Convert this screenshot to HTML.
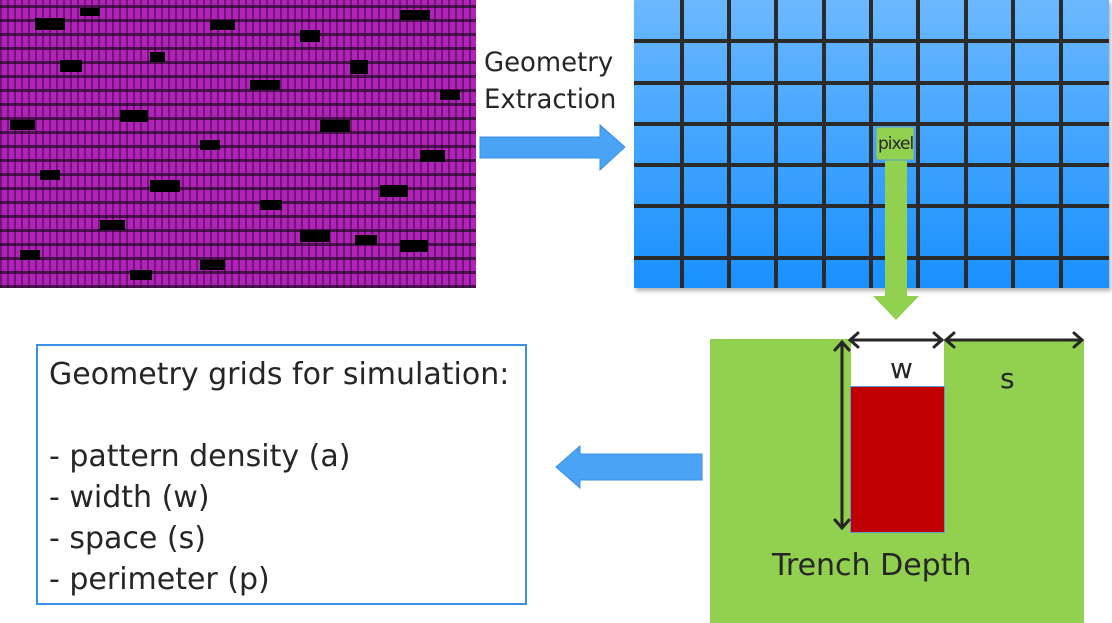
<!DOCTYPE html>
<html><head><meta charset="utf-8"><style>
body{margin:0;width:1112px;height:623px;background:#fff;position:relative;overflow:hidden;font-family:"DejaVu Sans","Liberation Sans",sans-serif;color:#262626}
.abs{position:absolute}
#layout{left:0;top:0;width:476px;height:288px;background:
repeating-linear-gradient(0deg,rgba(0,0,0,.55) 0 3px,transparent 3px 14px),
repeating-linear-gradient(90deg,rgba(0,0,0,.35) 0 2px,transparent 2px 7px),
#b022b8}
#grid{left:634px;top:0;width:475px;height:288px;background:linear-gradient(#6cb8ff,#1890ff);box-shadow:2px 3px 4px rgba(0,0,0,.3)}
.v{position:absolute;top:0;height:288px;width:4px;background:#2b2b2b}
.h{position:absolute;left:634px;width:475px;height:4px;background:#2b2b2b}
</style></head><body>
<div id="layout" class="abs">
<svg width="476" height="288" style="position:absolute;left:0;top:0">
<g fill="#000">
<rect x="35" y="18" width="30" height="12"/><rect x="80" y="8" width="20" height="8"/><rect x="210" y="20" width="25" height="10"/><rect x="300" y="30" width="20" height="12"/><rect x="400" y="10" width="30" height="10"/>
<rect x="60" y="60" width="22" height="12"/><rect x="150" y="52" width="15" height="10"/><rect x="250" y="80" width="30" height="10"/><rect x="350" y="60" width="18" height="14"/><rect x="440" y="90" width="20" height="10"/>
<rect x="10" y="120" width="25" height="10"/><rect x="120" y="110" width="28" height="12"/><rect x="200" y="140" width="20" height="10"/><rect x="320" y="120" width="30" height="12"/><rect x="420" y="150" width="25" height="12"/>
<rect x="40" y="170" width="20" height="10"/><rect x="150" y="180" width="30" height="12"/><rect x="260" y="200" width="22" height="10"/><rect x="380" y="185" width="28" height="12"/><rect x="100" y="220" width="25" height="10"/>
<rect x="300" y="230" width="30" height="12"/><rect x="20" y="250" width="20" height="10"/><rect x="200" y="260" width="25" height="10"/><rect x="400" y="240" width="28" height="12"/><rect x="130" y="270" width="22" height="10"/><rect x="355" y="235" width="22" height="10"/>
</g></svg></div>

<div class="abs" style="left:484px;top:44px;font-size:27px;line-height:37px;transform:scaleX(0.96);transform-origin:left">Geometry<br>Extraction</div>
<svg class="abs" style="left:478px;top:122px" width="150" height="52"><path d="M2 15H122V3L147 25L122 48V36H2Z" fill="#4aa3f5" stroke="#3a90e0"/></svg>

<div id="grid" class="abs"></div>
<div class="v" style="left:680px"></div><div class="v" style="left:727px"></div><div class="v" style="left:774px"></div><div class="v" style="left:822px"></div><div class="v" style="left:869px"></div><div class="v" style="left:916px"></div><div class="v" style="left:964px"></div><div class="v" style="left:1011px"></div><div class="v" style="left:1059px"></div>
<div class="h" style="top:39px"></div><div class="h" style="top:81px"></div><div class="h" style="top:122px"></div><div class="h" style="top:163px"></div><div class="h" style="top:204px"></div><div class="h" style="top:256px"></div>

<svg class="abs" style="left:870px;top:126px" width="52" height="196"><path d="M15 34H37V170H49L26 194L3 170H15Z" fill="#92d050"/><rect x="6" y="1" width="38" height="33" fill="#92d050" stroke="#5b9bd5"/></svg>
<div class="abs" style="left:878px;top:134px;font-size:17px;letter-spacing:-1px">pixel</div>

<div class="abs" style="left:710px;top:339px;width:374px;height:284px;background:#92d050"></div>
<div class="abs" style="left:851px;top:339px;width:93px;height:48px;background:#fff"></div>
<div class="abs" style="left:851px;top:387px;width:93px;height:145px;background:#c00000;outline:1px solid #5b9bd5"></div>
<svg class="abs" style="left:0;top:0" width="1112" height="623"><g stroke="#262626" stroke-width="3" fill="none" stroke-linecap="round">
<path d="M850 340H942M858 333L850 340L858 347M934 333L942 340L934 347"/>
<path d="M946 340H1082M954 333L946 340L954 347M1074 333L1082 340L1074 347"/>
<path d="M842 342V528M835 350L842 342L849 350M835 520L842 528L849 520"/>
</g></svg>
<div class="abs" style="left:890px;top:352px;font-size:28px">w</div>
<div class="abs" style="left:1000px;top:362px;font-size:28px">s</div>
<div class="abs" style="left:772px;top:548px;font-size:30px">Trench Depth</div>

<svg class="abs" style="left:554px;top:445px" width="150" height="45"><path d="M148 9H26V1L2 22L26 43V35H148Z" fill="#4aa3f5" stroke="#3a90e0"/></svg>

<div class="abs" style="left:36px;top:344px;width:487px;height:257px;border:2px solid #3b8fe8"></div>
<div class="abs" style="left:49px;top:354px;font-size:30px;line-height:41px;white-space:pre">Geometry grids for simulation:

- pattern density (a)
- width (w)
- space (s)
- perimeter (p)</div>
</body></html>
